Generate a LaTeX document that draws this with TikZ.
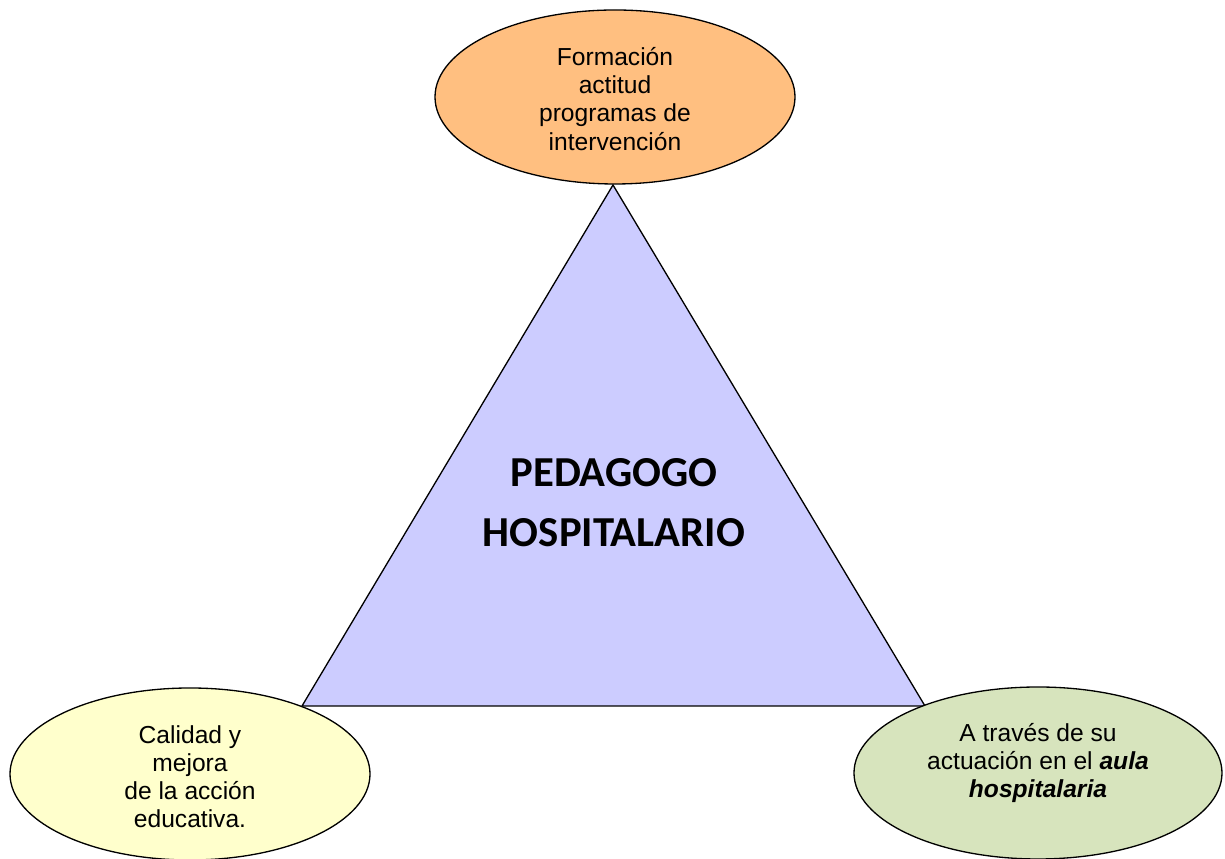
\documentclass[tikz,border=0pt]{standalone}
\usepackage{fontspec}
\setmainfont{Liberation Sans}
\newfontfamily\titlefont{Carlito}
\usepackage{tikz}
\usetikzlibrary{shapes.geometric,positioning}
\definecolor{orangefill}{RGB}{255,191,128}
\definecolor{yellowfill}{RGB}{255,255,204}
\definecolor{greenfill}{RGB}{215,228,189}
\definecolor{bluefill}{RGB}{204,204,255}

\begin{document}
\begin{tikzpicture}[
font=\fontsize{14}{16}\selectfont,
side/.style={ellipse,draw=black,line width=0.75pt,inner sep=0pt,align=center},
title/.style={font=\titlefont\bfseries\fontsize{24.3}{34}\selectfont,align=center}
]
    \useasboundingbox (0,0) rectangle (24.5,17.18);

    % Draw triangle
    \draw
  	(12.26,13.48) coordinate (apex)
  	(6.04,3.06) coordinate (left)
  	(18.50,3.06) coordinate (right);
  	\filldraw[fill=bluefill, draw=black, line width=0.75pt]
    (apex) -- (left) -- (right) -- cycle;

  	\node[title] (pedagogo) at (12.28,7.12) {PEDAGOGO\\HOSPITALARIO};

    % Draw ellipses
  	\node[side, fill=orangefill, minimum width=7.2cm, minimum height=3.48cm] (formacion) at (12.30,15.24) {};
  	\node[align=center] at (12.30,15.20) {Formación\\actitud\\programas de\\intervención};

  	\node[side, fill=yellowfill, minimum width=7.2cm, minimum height=3.44cm] (calidad) at (3.80,1.70) {};
  	\node[align=center] at (3.80,1.64) {Calidad y\\mejora\\de la acción\\educativa.};

  	\node[side, fill=greenfill, minimum width=7.36cm, minimum height=3.44cm] (aula) at (20.76,1.72) {};
  	\node[align=center] at (20.76,1.92) {A través de su\\actuación en el \textbf{\textit{aula}}\\\textbf{\textit{hospitalaria}}};

\end{tikzpicture}
\end{document}
